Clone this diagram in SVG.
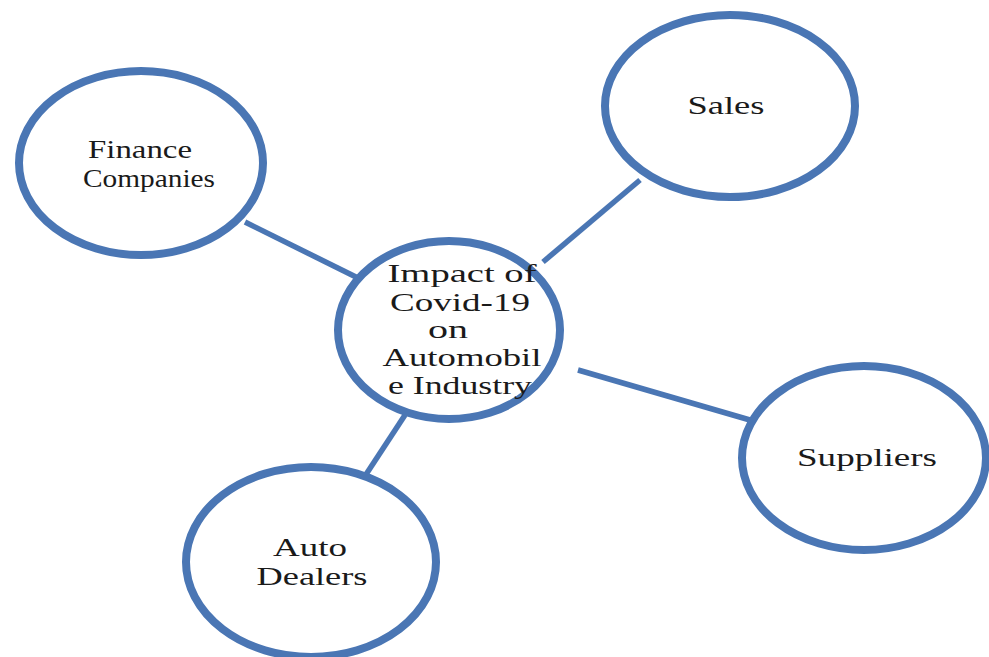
<svg xmlns="http://www.w3.org/2000/svg" width="989" height="657" viewBox="0 0 989 657">
<style>
.n{fill:#fff;stroke:#4a76b4;stroke-width:8}
.c line{stroke:#4a76b4;stroke-width:5.5}
text{font-family:"Liberation Serif",serif;font-size:26px;fill:#1a1a1a;text-anchor:middle}
</style>
<rect width="989" height="657" fill="#fff"/>
<g class="c" id="connectors">
<line x1="245" y1="222" x2="360" y2="279"/>
<line x1="640" y1="180" x2="543" y2="262"/>
<line x1="578" y1="370" x2="750" y2="420"/>
<line x1="405" y1="415" x2="365" y2="476"/>
</g>
<g id="finance"><ellipse class="n" cx="141" cy="163" rx="122" ry="92"/><text x="140" y="158" textLength="104" lengthAdjust="spacingAndGlyphs">Finance</text><text x="149" y="187" textLength="132" lengthAdjust="spacingAndGlyphs">Companies</text></g>
<g id="sales"><ellipse class="n" cx="730" cy="106" rx="125" ry="91"/><text x="726" y="114" textLength="77" lengthAdjust="spacingAndGlyphs">Sales</text></g>
<g id="center"><ellipse class="n" cx="449" cy="330" rx="111" ry="89"/><text x="462" y="282" textLength="149" lengthAdjust="spacingAndGlyphs">Impact of</text><text x="460" y="311" textLength="140" lengthAdjust="spacingAndGlyphs">Covid-19</text><text x="448" y="338" textLength="40" lengthAdjust="spacingAndGlyphs">on</text><text x="462" y="366" textLength="159" lengthAdjust="spacingAndGlyphs">Automobil</text><text x="460" y="394" textLength="144" lengthAdjust="spacingAndGlyphs">e Industry</text></g>
<g id="suppliers"><ellipse class="n" cx="864" cy="458" rx="122" ry="92"/><text x="867" y="466" textLength="140" lengthAdjust="spacingAndGlyphs">Suppliers</text></g>
<g id="dealers"><ellipse class="n" cx="311" cy="562" rx="125" ry="95"/><text x="310" y="556" textLength="74" lengthAdjust="spacingAndGlyphs">Auto</text><text x="312" y="585" textLength="111" lengthAdjust="spacingAndGlyphs">Dealers</text></g>
</svg>
